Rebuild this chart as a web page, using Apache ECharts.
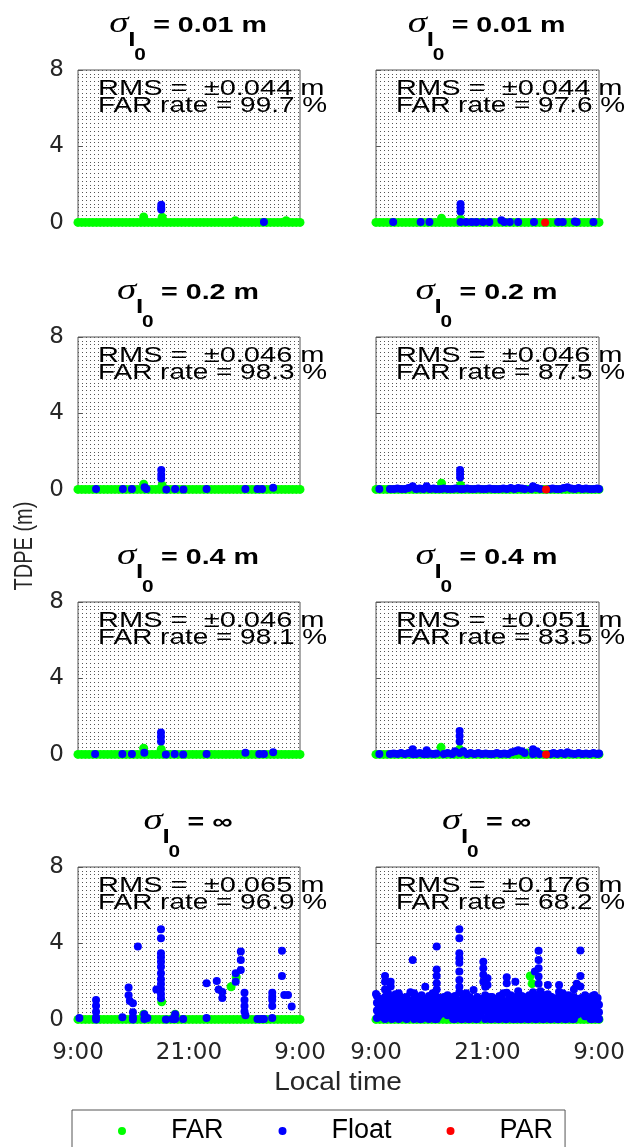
<!DOCTYPE html>
<html>
<head>
<meta charset="utf-8">
<script src="https://cdn.jsdelivr.net/npm/echarts@6/dist/echarts.min.js"></script>
<style>
  html, body { margin: 0; padding: 0; background: #fff; }
  #chart { width: 630px; height: 1147px; }
</style>
</head>
<body>
<div id="chart"></div>
<script>
// x = hours after 9:00 local time
const xTickValues = [0, 12, 24];
const xTickLabels = ['9:00', '21:00', '9:00'];

const sigmaLabels = ['0.01 m', '0.01 m', '0.2 m', '0.2 m', '0.4 m', '0.4 m', '∞', '∞'];
const rmsValues = ['0.044', '0.044', '0.046', '0.046', '0.046', '0.051', '0.065', '0.176'];
const farRates = ['99.7', '97.6', '98.3', '87.5', '98.1', '83.5', '96.9', '68.2'];

// FAR epochs sit on the zero line all day long
const farTimes = [0, 0.4, 0.8, 1.2, 1.6, 2, 2.4, 2.8, 3.2, 3.6, 4, 4.4, 4.8, 5.2, 5.6, 6, 6.4, 6.8, 7.2, 7.6,
  8, 8.4, 8.8, 9.2, 9.6, 10, 10.4, 10.8, 11.2, 11.6, 12, 12.4, 12.8, 13.2, 13.6, 14, 14.4, 14.8, 15.2, 15.6,
  16, 16.4, 16.8, 17.2, 17.6, 18, 18.4, 18.8, 19.2, 19.6, 20, 20.4, 20.8, 21.2, 21.6, 22, 22.4, 22.8, 23.2, 23.6, 24];
const farLevel = 0.03;
// FAR points off the zero line, one list per panel: [hour, TDPE]
const farExtra = [
  [[7.1, 0.32], [9.1, 0.3], [17.0, 0.12], [22.5, 0.12]],
  [[7.05, 0.25], [9.1, 0.2]],
  [[7.1, 0.3], [9.1, 0.25]],
  [[7.05, 0.35], [9.1, 0.25]],
  [[7.1, 0.35], [9.0, 0.3]],
  [[7.0, 0.4], [9.0, 0.3], [16.3, 0.1]],
  [[7.1, 0.3], [9.05, 0.95], [10.5, 0.3], [16.55, 1.74], [17.1, 2.25]],
  [[16.6, 2.3], [16.8, 1.9], [7.6, 0.05], [22.3, 0.05]]
];

// Float points per panel: [hour, [TDPE values at that hour]]
const float1 = [[9.0, [0.95, 0.8, 0.7]], [20.1, [0.05]]];
const float2 = [[1.85, [0.05]], [4.8, [0.05]], [5.75, [0.05]], [9.1, [1.0, 0.8, 0.6, 0.05]], [9.7, [0.05]],
  [10.3, [0.05]], [10.8, [0.05]], [11.5, [0.05]], [12.2, [0.05]], [13.5, [0.15]], [13.8, [0.05]], [14.4, [0.05]],
  [15.3, [0.05]], [17.0, [0.05]], [19.6, [0.05]], [20.1, [0.05]], [21.4, [0.08]], [21.6, [0.05]], [23.4, [0.05]]];
const float3 = [[1.95, [0.05]], [4.85, [0.05]], [5.83, [0.05]], [7.2, [0.15]], [7.4, [0.05]], [9.0, [1.05, 0.8, 0.6]],
  [9.55, [0.03]], [10.5, [0.05]], [11.4, [0.03]], [13.9, [0.05]], [18.1, [0.05]], [19.4, [0.05]], [19.9, [0.05]],
  [21.1, [0.12]]];
const float4 = [[0.36, [0.05]], [1.5, [0.05]], [1.9, [0.05]], [2.3, [0.08]], [2.7, [0.05]], [3.1, [0.05]], [3.5, [0.1]],
  [3.95, [0.2]], [4.3, [0.05]], [4.7, [0.08]], [5.1, [0.05]], [5.45, [0.2]], [5.8, [0.05]], [6.2, [0.08]], [6.5, [0.05]],
  [6.95, [0.05]], [7.3, [0.08]], [7.75, [0.05]], [8.2, [0.05]], [8.55, [0.08]], [9.05, [1.05, 0.85, 0.65, 0.05]],
  [9.4, [0.05]], [9.8, [0.08]], [10.2, [0.05]], [10.6, [0.05]], [11.0, [0.08]], [11.4, [0.05]], [11.8, [0.05]],
  [12.2, [0.08]], [12.6, [0.05]], [12.9, [0.05]], [13.3, [0.05]], [13.7, [0.08]], [14.1, [0.05]], [14.5, [0.1]],
  [14.9, [0.05]], [15.3, [0.1]], [15.7, [0.08]], [16.0, [0.05]], [16.7, [0.05]], [16.9, [0.2]], [17.3, [0.1]],
  [17.7, [0.05]], [18.7, [0.05]], [19.0, [0.08]], [19.4, [0.05]], [19.8, [0.05]], [20.2, [0.1]], [20.6, [0.15]],
  [21.0, [0.08]], [21.4, [0.05]], [21.8, [0.1]], [22.2, [0.05]], [22.6, [0.08]], [23.0, [0.05]], [23.4, [0.05]],
  [23.8, [0.08]], [24.0, [0.05]]];
const float5 = [[1.85, [0.05]], [4.8, [0.05]], [5.83, [0.05]], [7.17, [0.12]], [8.97, [1.17, 0.95, 0.7]], [9.5, [0.03]],
  [10.45, [0.05]], [11.37, [0.03]], [13.9, [0.05]], [18.1, [0.12]], [19.6, [0.05]], [20.1, [0.05]], [21.1, [0.15]]];
const float6 = [[0.36, [0.05]], [1.5, [0.05]], [1.9, [0.08]], [2.3, [0.05]], [2.7, [0.1]], [3.1, [0.05]], [3.5, [0.1]],
  [3.95, [0.3, 0.05]], [4.3, [0.05]], [4.7, [0.1]], [5.1, [0.05]], [5.45, [0.25, 0.05]], [5.8, [0.08]], [6.2, [0.05]],
  [6.5, [0.08]], [7.3, [0.05]], [7.7, [0.1]], [8.2, [0.05]], [8.5, [0.2]], [9.0, [1.25, 1.0, 0.7, 0.1]], [9.4, [0.2]],
  [9.8, [0.05]], [10.2, [0.1]], [10.6, [0.05]], [11.0, [0.1]], [11.4, [0.05]], [11.8, [0.08]], [12.2, [0.05]],
  [12.6, [0.05]], [13.0, [0.1]], [13.4, [0.05]], [13.8, [0.08]], [14.2, [0.05]], [14.6, [0.15]], [15.0, [0.2]],
  [15.3, [0.25]], [15.7, [0.2]], [16.0, [0.1]], [16.9, [0.3, 0.05]], [17.3, [0.2]], [17.6, [0.05]], [18.8, [0.05]],
  [19.1, [0.1]], [19.5, [0.05]], [19.9, [0.1]], [20.3, [0.05]], [20.6, [0.15]], [21.0, [0.08]], [21.4, [0.05]],
  [21.8, [0.1]], [22.2, [0.05]], [22.6, [0.08]], [23.0, [0.05]], [23.4, [0.1]], [23.8, [0.05]], [24.0, [0.08]]];
const float7 = [[0.15, [0.1]], [1.95, [1.05, 0.75, 0.43, 0.15, 0.03]], [4.8, [0.15]], [5.47, [1.7, 1.3]],
  [5.6, [1.0]], [5.94, [0.87, 0.4, 0.15, 0.03]], [6.47, [3.84]], [7.17, [0.3, 0.05]], [7.5, [0.1]], [8.47, [1.6]],
  [8.97, [4.75, 4.28, 3.49, 3.28, 3.05, 2.79, 2.44, 2.13, 1.88, 1.62, 1.36, 1.14]], [9.5, [0.03]], [10.2, [0.05]],
  [10.5, [0.3, 0.05]], [11.37, [0.05]], [13.9, [1.92, 0.1]], [15.0, [2.04]], [15.2, [1.6]], [15.6, [1.46, 1.15]],
  [17.05, [2.44, 2.0]], [17.6, [3.58, 3.14, 2.62]], [18.0, [1.43, 1.05, 0.73, 0.44]], [18.1, [0.25]],
  [19.4, [0.05]], [19.8, [0.05]], [20.1, [0.05]], [21.0, [1.43, 1.22, 1.05, 0.73, 0.1]], [22.05, [3.62, 2.3]],
  [22.3, [1.31]], [22.7, [1.31]], [23.1, [0.7]]];
const float8 = [
  [0.0, [1.36]], [0.1, [0.1, 0.5, 0.9, 1.25]], [0.3, [0.3, 0.75]], [0.5, [0.3, 0.7, 1.1]], [0.75, [0.15, 0.55, 1.0]],
  [0.97, [0.05, 0.45, 0.85, 1.2, 1.6, 2.0, 2.3]], [1.15, [0.3, 0.7, 1.3]],
  [1.3, [0.2, 0.6, 1.0, 1.4]], [1.58, [2.0, 1.75]], [1.7, [0.05, 0.4, 0.8, 1.15]], [1.9, [0.25, 0.95]],
  [2.1, [0.25, 0.65, 1.05, 1.35]], [2.3, [0.1, 0.5, 0.85]],
  [2.45, [0.05, 0.5, 0.9, 1.4]], [2.7, [0.2, 0.6, 1.2]], [2.9, [0.3, 0.7, 1.1]], [3.1, [0.1, 0.9]],
  [3.3, [0.05, 0.45, 0.85, 1.2]], [3.5, [0.3, 0.65, 1.05]], [3.7, [0.2, 0.6, 1.0, 1.45]],
  [3.95, [3.14]], [4.1, [0.05, 0.35, 0.75, 1.1, 1.4]], [4.3, [0.2, 0.55, 0.95]], [4.5, [0.25, 0.65, 1.05]],
  [4.7, [0.05, 0.4, 1.2]], [4.9, [0.05, 0.5, 0.9, 1.3]], [5.1, [0.25, 0.7]],
  [5.3, [0.3, 0.7, 1.1, 1.74]], [5.5, [0.1, 0.5, 0.95]], [5.7, [0.05, 0.45, 0.85, 1.25]], [5.9, [0.3, 0.65]],
  [6.1, [0.2, 0.6, 1.0, 1.4]], [6.3, [0.05, 0.45, 1.1]],
  [6.53, [0.05, 0.4, 0.8, 1.22, 1.6, 1.92, 2.3, 2.64, 3.84]], [6.7, [0.2, 0.6, 1.0]], [6.9, [0.3, 0.7, 1.15]],
  [7.1, [0.45, 0.9]], [7.3, [0.35, 0.75, 1.2]], [7.5, [0.55, 1.0]],
  [7.7, [0.25, 0.6, 1.0, 1.3]], [7.9, [0.4, 0.8]], [8.1, [0.3, 0.7, 1.05]], [8.3, [0.05, 0.5, 1.2]],
  [8.5, [0.05, 0.45, 0.9, 1.25]], [8.75, [0.25, 0.65, 1.05]],
  [8.97, [0.2, 0.6, 1.0, 1.45, 1.74, 2.09, 2.53, 3.0, 3.23, 3.49, 4.28, 4.75]], [9.15, [0.05, 0.4, 0.8]],
  [9.3, [0.05, 0.35, 0.75, 1.1]], [9.5, [0.2, 0.55, 1.25]],
  [9.7, [0.2, 0.6, 1.0, 1.4]], [9.9, [0.05, 0.4, 0.8]], [10.1, [0.05, 0.5, 0.85, 1.2]], [10.3, [0.3, 0.7]],
  [10.5, [0.25, 0.65, 1.05, 1.57]], [10.7, [0.05, 0.45, 0.9]],
  [10.9, [0.05, 0.4, 0.8, 1.2]], [11.1, [0.2, 0.6, 1.0]], [11.3, [0.3, 0.7, 1.1]], [11.55, [2.0, 2.36, 2.7, 3.05]],
  [11.75, [0.05, 0.5, 0.9, 1.3, 1.74]], [12.0, [1.83, 2.18]], [12.1, [0.2, 0.6, 1.0]], [12.3, [0.05, 0.4, 1.2]],
  [12.5, [0.05, 0.45, 0.85, 1.2]], [12.7, [0.25, 0.65]],
  [12.9, [0.3, 0.7, 1.1]], [13.1, [0.05, 0.5, 0.9]], [13.3, [0.05, 0.4, 0.8, 1.25]], [13.5, [0.25, 0.6, 1.05]],
  [13.7, [0.2, 0.6, 1.0, 1.4]], [13.9, [0.05, 0.35, 0.8]],
  [14.07, [0.05, 0.5, 0.9, 1.43, 1.92, 2.23]], [14.3, [0.2, 0.65, 1.1]], [14.5, [0.25, 0.65, 1.05, 1.3]],
  [14.7, [0.05, 0.45, 0.9]], [15.0, [0.05, 0.4, 0.8, 1.2, 2.0]], [15.15, [0.25, 0.6, 1.0]],
  [15.3, [0.3, 0.7, 1.1, 1.5]], [15.5, [0.05, 0.4, 0.85]], [15.7, [0.05, 0.5, 0.9, 1.25]], [15.9, [0.3, 0.7, 1.1]],
  [16.1, [0.2, 0.6, 1.0]], [16.3, [0.05, 0.4, 0.8, 1.2]], [16.5, [0.05, 0.45, 0.85, 1.3]], [16.7, [0.25, 0.6, 1.0]],
  [16.9, [0.25, 0.65, 1.05, 1.45]], [17.1, [0.05, 0.45, 2.53]], [17.3, [0.05, 0.4, 0.8, 1.2]],
  [17.5, [1.9, 2.27, 2.7, 3.14, 3.62, 0.6]], [17.7, [0.3, 0.7, 1.1, 1.5]], [17.9, [0.05, 0.45, 0.9]],
  [18.1, [0.05, 0.5, 0.9, 1.3]], [18.3, [0.25, 0.65, 1.05]],
  [18.5, [0.2, 0.6, 1.0, 1.35, 1.83]], [18.7, [0.05, 0.4, 0.8]], [18.9, [0.05, 0.45, 0.85, 1.2]], [19.1, [0.25, 0.6, 1.0]],
  [19.3, [0.3, 0.7, 1.1]], [19.5, [0.05, 0.5, 0.9]],
  [19.7, [0.05, 0.4, 0.8, 1.25, 1.48, 1.83]], [19.9, [0.2, 0.65, 1.05]], [20.1, [0.2, 0.6, 1.0, 1.4]],
  [20.3, [0.05, 0.4, 0.8]], [20.5, [0.05, 0.5, 0.9, 1.2]], [20.7, [0.3, 0.7, 1.3]],
  [20.9, [0.25, 0.65, 1.05]], [21.1, [0.05, 0.45, 0.9]], [21.3, [0.05, 0.4, 0.8, 1.2, 1.6]], [21.5, [0.25, 0.6, 1.0]],
  [21.6, [1.9]], [21.7, [0.3, 0.7, 1.1]], [21.9, [0.45, 0.9]],
  [22.0, [1.75, 2.3, 3.63]], [22.1, [0.35, 0.75, 1.15]], [22.3, [0.55, 1.0]], [22.5, [0.2, 0.6, 1.0, 1.3]],
  [22.7, [0.4, 0.85]], [22.9, [0.3, 0.7, 1.1]], [23.1, [0.05, 0.5, 0.95]],
  [23.3, [0.05, 0.45, 0.85, 1.25]], [23.5, [1.31, 0.3, 0.7]], [23.7, [0.2, 0.6, 1.0]], [23.85, [0.05, 0.45, 1.15]],
  [24.0, [0.05, 0.4, 0.8]]];
const floatPanels = [float1, float2, float3, float4, float5, float6, float7, float8];

// PAR points per panel
const parPanels = [[], [[18.2, 0.03]], [], [[18.3, 0.03]], [], [[18.3, 0.03]], [], []];

// layout
const colLeft = [78, 376];
const colWidth = [222, 223];
const rowTop = [70, 337, 602, 867];
const boxHeight = 153;
const stretch = 1.3; // the source figure text is horizontally stretched

const measureCtx = document.createElement('canvas').getContext('2d');
function textWidth(text, font) {
  measureCtx.font = font;
  return measureCtx.measureText(text).width;
}

function text(x, y, str, font, opts) {
  return Object.assign({
    type: 'text', x: x, y: y, scaleX: stretch, silent: true,
    style: {
      text: str, font: font, fill: '#000',
      align: 'left', textAlign: 'left', verticalAlign: 'middle', textVerticalAlign: 'middle'
    }
  }, opts || {});
}

const dotted = { color: '#555', width: 1, type: [1, 3] };
const grids = [], xAxes = [], yAxes = [], series = [], graphics = [];

for (let i = 0; i < 8; i++) {
  const row = Math.floor(i / 2), col = i % 2;
  const left = colLeft[col], top = rowTop[row];

  grids.push({
    left: left, top: top, width: colWidth[col], height: boxHeight,
    show: true, borderColor: '#555', borderWidth: 1, backgroundColor: '#fff'
  });

  xAxes.push({
    gridIndex: i, type: 'value', min: 0, max: 24, interval: 6,
    axisLine: { show: false },
    axisTick: { show: true, inside: true, length: 4, lineStyle: { color: '#555' } },
    axisLabel: {
      show: row === 3, margin: 22, color: '#262626', fontFamily: 'DejaVu Sans', fontSize: 23,
      formatter: v => { const k = xTickValues.indexOf(v); return k < 0 ? '' : xTickLabels[k]; }
    },
    splitLine: { show: false }
  });

  yAxes.push({
    gridIndex: i, type: 'value', min: 0, max: 8, interval: 4,
    axisLine: { show: false },
    axisTick: { show: true, inside: true, length: 4, lineStyle: { color: '#555' } },
    axisLabel: { show: col === 0, margin: 14, color: '#262626', fontFamily: 'DejaVu Sans', fontSize: 23 },
    splitLine: { show: true, lineStyle: dotted },
    minorTick: { show: false, splitNumber: 20 },
    minorSplitLine: { show: true, lineStyle: dotted }
  });

  const floatData = [];
  floatPanels[i].forEach(([h, vals]) => vals.forEach(v => floatData.push([h, v])));

  series.push({
    type: 'scatter', name: 'FAR', xAxisIndex: i, yAxisIndex: i, clip: false, z: 2,
    symbolSize: 9, itemStyle: { color: '#00ff00', opacity: 1 },
    data: farTimes.map(t => [t, farLevel]).concat(farExtra[i])
  });
  series.push({
    type: 'scatter', name: 'Float', xAxisIndex: i, yAxisIndex: i, clip: false, z: 3,
    symbolSize: 8, itemStyle: { color: '#0000ff', opacity: 1 },
    data: floatData
  });
  series.push({
    type: 'scatter', name: 'PAR', xAxisIndex: i, yAxisIndex: i, clip: false, z: 4,
    symbolSize: 8, itemStyle: { color: '#ff0000', opacity: 1 },
    data: parPanels[i]
  });

  // panel title: sigma with subscript I, sub-subscript 0
  const cx = left + colWidth[col] / 2;
  const titleFont = 'bold 22px "Liberation Sans"';
  const main = '= ' + sigmaLabels[i];
  const total = 42 + textWidth(main, titleFont) * stretch;
  const tl = cx - total / 2;
  graphics.push(text(tl - 2, top - 46, 'σ', 'italic 30px "Liberation Serif"'));
  graphics.push(text(tl + 17, top - 30, 'I', 'bold 20px "Liberation Sans"'));
  graphics.push(text(tl + 23, top - 14, '0', 'bold 16px "Liberation Sans"'));
  graphics.push(text(tl + 42, top - 44, main, titleFont));

  // statistics inside the box
  const annFont = '22px "Liberation Sans"';
  graphics.push(text(left + 20, top + 19, 'RMS =  ±' + rmsValues[i] + ' m', annFont, { scaleX: 1.32, z: 10 }));
  graphics.push(text(left + 20, top + 36, 'FAR rate = ' + farRates[i] + ' %', annFont, { scaleX: 1.27, z: 10 }));
}

graphics.push({
  type: 'text', x: 25, y: 546, rotation: Math.PI / 2, scaleY: stretch, silent: true,
  style: {
    text: 'TDPE (m)', font: '20px "Liberation Sans"', fill: '#262626',
    align: 'center', textAlign: 'center', verticalAlign: 'middle', textVerticalAlign: 'middle'
  }
});
graphics.push({
  type: 'text', x: 338, y: 1083, scaleX: 1.12, silent: true,
  style: {
    text: 'Local time', font: '25px "Liberation Sans"', fill: '#262626',
    align: 'center', textAlign: 'center', verticalAlign: 'middle', textVerticalAlign: 'middle'
  }
});

// legend marker: a dot centred in a wide sample area (the zero-length ends set the box)
const legendIcon = 'path://M0,4L0.01,4M88,4L88.01,4M40,4A4,4,0,1,0,48,4A4,4,0,1,0,40,4Z';

const chart = echarts.init(document.getElementById('chart'), null, { renderer: 'canvas' });
chart.setOption({
  backgroundColor: '#fff',
  animation: false,
  grid: grids,
  xAxis: xAxes,
  yAxis: yAxes,
  series: series,
  graphic: { elements: graphics },
  legend: {
    data: ['FAR', 'Float', 'PAR'],
    selectedMode: false,
    left: 72, top: 1110,
    icon: legendIcon, itemWidth: 88, itemHeight: 8, itemGap: 15,
    padding: [6, 12, 8, 6],
    borderColor: '#555', borderWidth: 1,
    textStyle: { fontFamily: 'Liberation Sans', fontSize: 27, color: '#000', lineHeight: 30 }
  }
});
</script>
</body>
</html>
